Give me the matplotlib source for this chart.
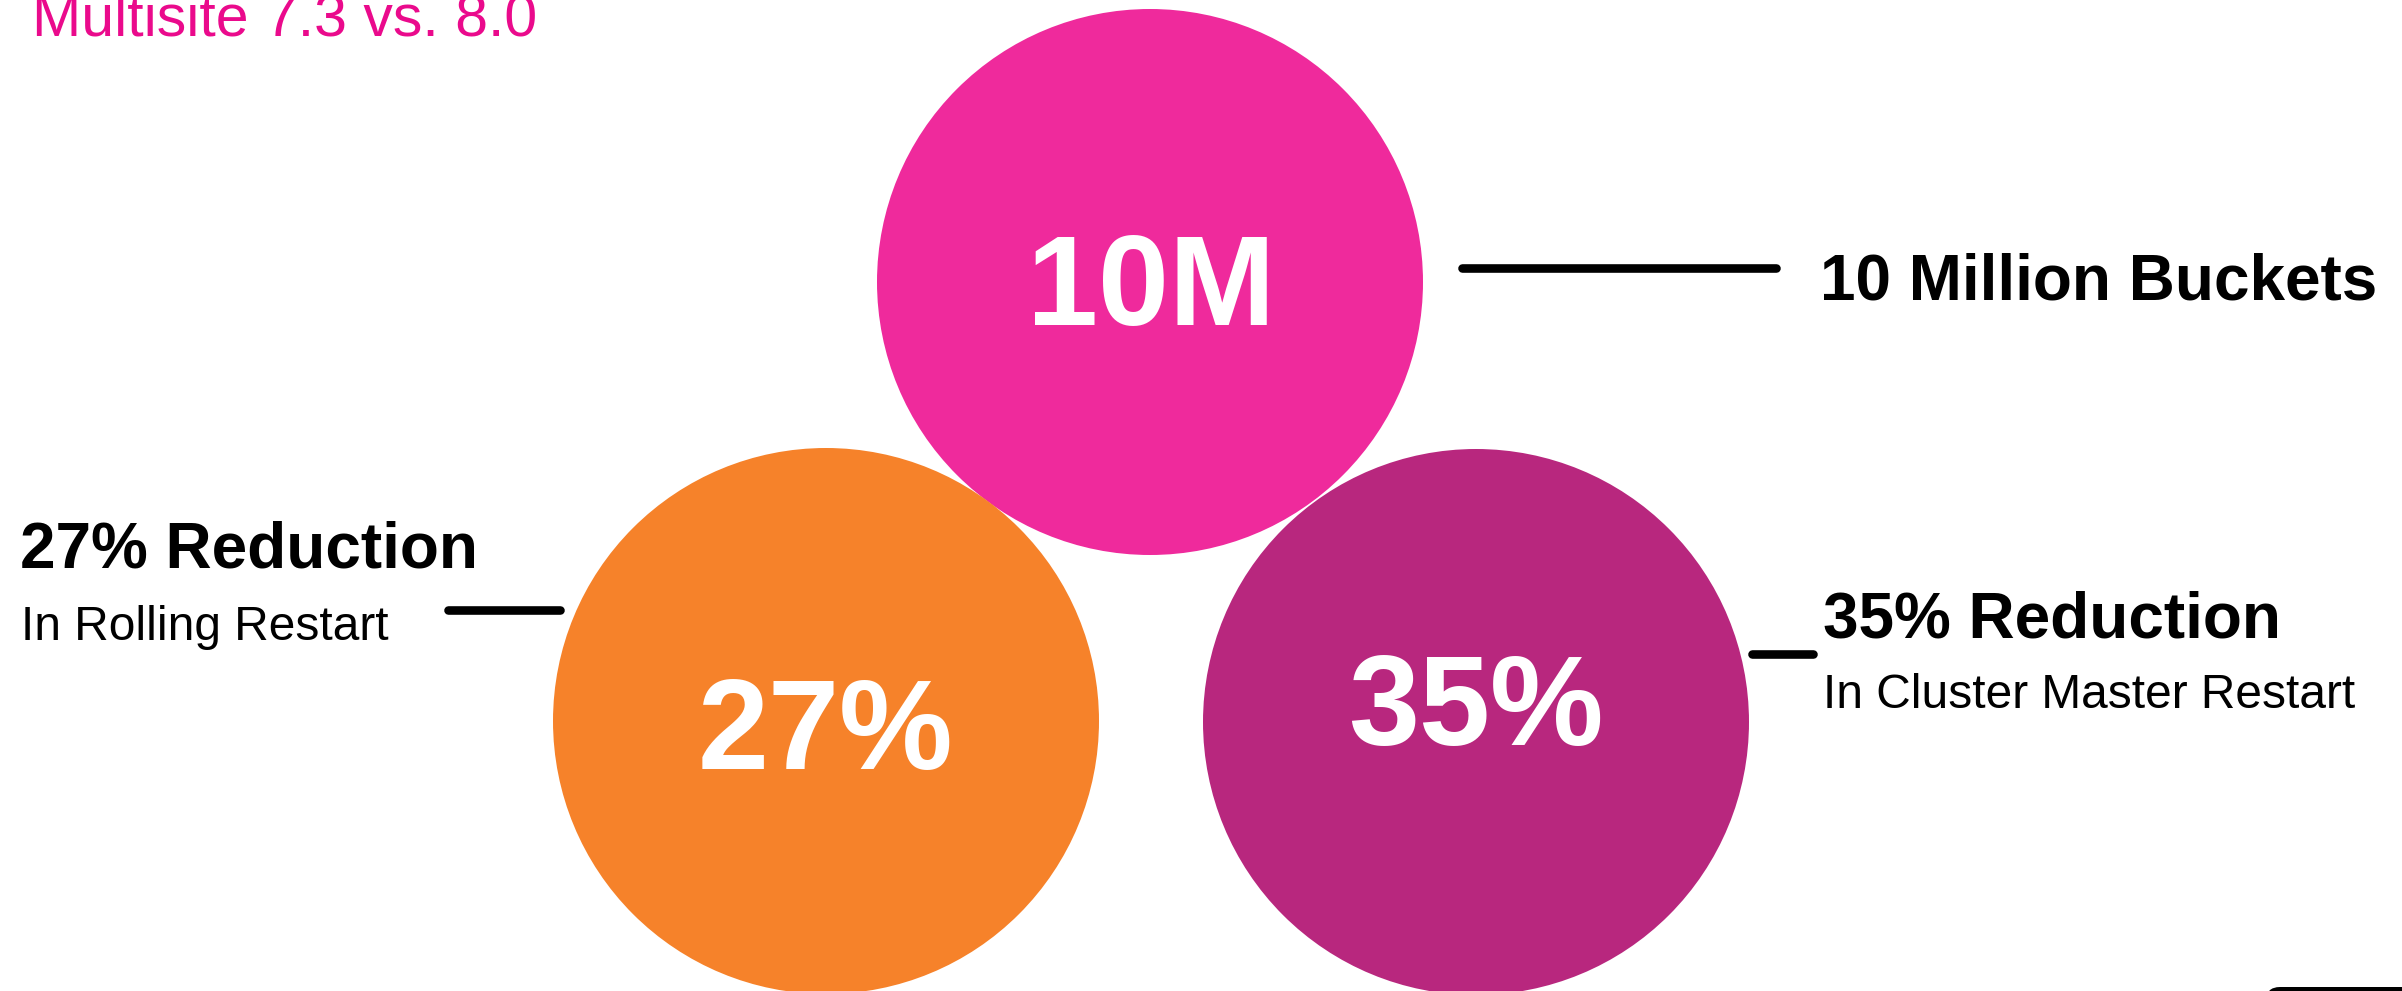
import matplotlib.pyplot as plt
from matplotlib.patches import Circle, FancyBboxPatch

# headline figures and their captions
stats = ["10M", "27%", "35%"]
headlines = ["10 Million Buckets", "27% Reduction", "35% Reduction"]
subtitles = ["", "In Rolling Restart", "In Cluster Master Restart"]
title = "Multisite 7.3 vs. 8.0"

# colours
circle_colors = ["#EF2A9C", "#F6822A", "#B8277E"]
title_color = "#EA0A8C"

# layout in pixel space (origin top-left)
W, H = 2402, 991
centers = [(1150, 282), (826, 721), (1476, 722)]
radius = 273
stat_pos = [(1151, 325), (825, 769), (1476, 745)]
head_pos = [(1820, 299), (20, 568), (1823, 637)]
sub_pos = [None, (21, 640), (1823, 708)]
connectors = [((1462, 268), (1776, 268)),
              ((448, 610), (560, 610)),
              ((1752, 654), (1813, 654))]

plt.rcParams["font.family"] = ["Liberation Sans", "DejaVu Sans"]

fig = plt.figure(figsize=(W / 100, H / 100), dpi=100)
ax = fig.add_axes([0, 0, 1, 1])
ax.set_xlim(0, W)
ax.set_ylim(H, 0)
ax.set_aspect("equal")
ax.axis("off")

for (cx, cy), col in zip(centers, circle_colors):
    ax.add_patch(Circle((cx, cy), radius, facecolor=col, edgecolor="none"))

for s, (x, y) in zip(stats, stat_pos):
    ax.text(x, y, s, color="white", fontsize=92, fontweight="bold",
            ha="center", va="baseline")

for h, (x, y) in zip(headlines, head_pos):
    ax.text(x, y, h, color="black", fontsize=46, fontweight="bold",
            ha="left", va="baseline")

for s, p in zip(subtitles, sub_pos):
    if p is None:
        continue
    ax.text(p[0], p[1], s, color="black", fontsize=34.5, ha="left", va="baseline")

for (x0, y0), (x1, y1) in connectors:
    ax.plot([x0, x1], [y0, y1], color="black", lw=6.2, solid_capstyle="round")

ax.text(32, 36, title, color=title_color, fontsize=42.5, ha="left", va="baseline")

# corner of the slide's footer button
ax.add_patch(FancyBboxPatch((2266, 987), 170, 60, boxstyle="round,pad=0,rounding_size=14",
                            facecolor="black", edgecolor="none", clip_on=True))

fig.savefig("out.png", dpi=100)
